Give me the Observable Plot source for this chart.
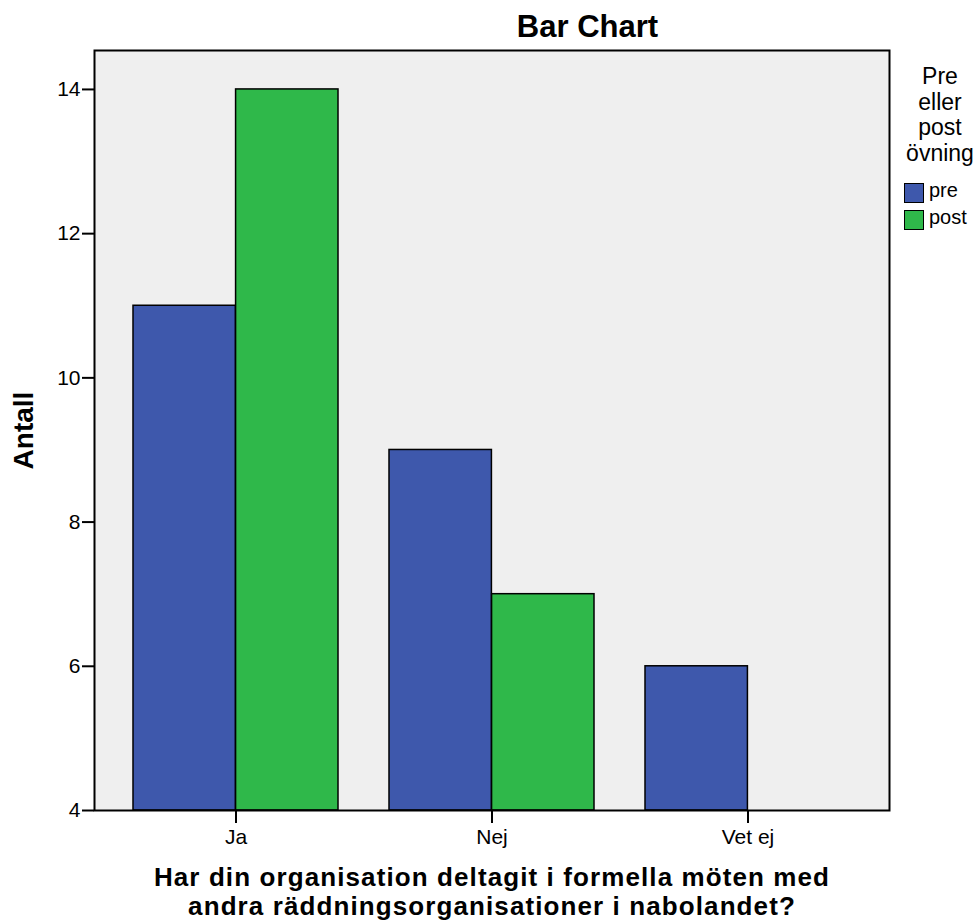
<!DOCTYPE html>
<html>
<head>
<meta charset="utf-8">
<script src="https://cdn.jsdelivr.net/npm/d3@7"></script>
<script src="https://cdn.jsdelivr.net/npm/@observablehq/plot@0.6"></script>
<style>
  html, body { margin: 0; padding: 0; background: #fff; }
  #wrap { position: relative; width: 975px; height: 924px; font-family: "Liberation Sans", Arial, sans-serif; color: #000; }
  #wrap svg { position: absolute; left: 0; top: 0; }
  .abs { position: absolute; white-space: nowrap; }
  #title { left: 0; width: 1175px; top: 9px; text-align: center; font-weight: bold; font-size: 31px; line-height: 36px; }
  #legtitle { left: 895px; width: 90px; top: 64px; text-align: center; font-size: 23px; line-height: 25.6px; }
  .sw { position: absolute; width: 18px; height: 18px; border: 1px solid #000; }
  .swl { position: absolute; font-size: 20px; }
</style>
</head>
<body>
<div id="wrap"></div>
<script>
const categories = ["Ja", "Nej", "Vet ej"];
const series = ["pre", "post"];
const preValues = [11, 9, 6];
const postValues = [14, 7, null];
const yTicks = [4, 6, 8, 10, 12, 14];
const seriesColors = ["#3e58ac", "#2fb84a"];
const titleText = "Bar Chart";
const yLabel = "Antall";
const xLabelLines = ["Har din organisation deltagit i formella möten med", "andra räddningsorganisationer i nabolandet?"];
const legendTitle = "Pre eller post övning";

const W = 975, H = 924;
const mL = 94, mR = 86, mT = 50, mB = 114;
const padIn = 0.2, padOut = 0.15;
const yDomain = [4, 14.54];

const rows = [];
categories.forEach((c, i) => {
  rows.push({cat: c, series: "pre", value: preValues[i]});
  rows.push({cat: c, series: "post", value: postValues[i]});
});

const innerW = W - mL - mR;
const step = innerW / (categories.length - padIn + 2 * padOut);
const bw = step * (1 - padIn);
const half = bw / 2;

const color = d => seriesColors[series.indexOf(d.series)];

const plot = Plot.plot({
  width: W,
  height: H,
  marginLeft: mL,
  marginRight: mR,
  marginTop: mT,
  marginBottom: mB,
  style: {fontFamily: "Liberation Sans, Arial, sans-serif", fontSize: "21px", color: "#000", background: "transparent"},
  x: {type: "band", domain: categories, paddingInner: padIn, paddingOuter: padOut, label: null},
  y: {domain: yDomain, label: null},
  marks: [
    Plot.frame({fill: "#efefef", stroke: null}),
    Plot.barY(rows.filter(d => d.series === "pre" && d.value != null), {
      x: "cat", y1: yDomain[0], y2: "value", fill: color, stroke: "#000", strokeWidth: 1.5, insetLeft: 0, insetRight: half
    }),
    Plot.barY(rows.filter(d => d.series === "post" && d.value != null), {
      x: "cat", y1: yDomain[0], y2: "value", fill: color, stroke: "#000", strokeWidth: 1.5, insetLeft: half, insetRight: 0
    }),
    Plot.frame({stroke: "#000", strokeWidth: 2}),
    Plot.axisY({ticks: yTicks, tickFormat: d3.format("d"), tickSize: 12, tickPadding: 2, strokeWidth: 2, label: null, fontSize: 21}),
    Plot.axisX({tickSize: 13, tickPadding: 6, strokeWidth: 2, label: null, fontSize: 21}),
    Plot.text([yLabel], {frameAnchor: "left", dx: -70, rotate: -90, fontWeight: "bold", fontSize: 28, textAnchor: "middle", text: d => d}),
    Plot.text([xLabelLines.join("\n")], {frameAnchor: "bottom", lineAnchor: "top", dy: 54.5, lineHeight: 1.12, fontWeight: "bold", fontSize: 26, textAnchor: "middle", text: d => d})
  ]
});

const wrap = document.getElementById("wrap");
wrap.appendChild(plot);

// widen the x-axis title slightly, as in the reference rendering
const textGroups = plot.querySelectorAll('g[aria-label="text"]');
if (textGroups.length) {
  textGroups[textGroups.length - 1].setAttribute("letter-spacing", "1.1");
}

const title = document.createElement("div");
title.className = "abs"; title.id = "title"; title.textContent = titleText;
wrap.appendChild(title);

const lt = document.createElement("div");
lt.className = "abs"; lt.id = "legtitle";
lt.innerHTML = legendTitle.split(" ").join("<br>");
wrap.appendChild(lt);

series.forEach((s, i) => {
  const sw = document.createElement("div");
  sw.className = "sw";
  sw.style.left = "904px";
  sw.style.top = (183 + i * 26.5) + "px";
  sw.style.background = seriesColors[i];
  wrap.appendChild(sw);
  const l = document.createElement("div");
  l.className = "swl";
  l.style.left = "929px";
  l.style.top = (179 + i * 26.5) + "px";
  l.textContent = s;
  wrap.appendChild(l);
});
</script>
</body>
</html>
